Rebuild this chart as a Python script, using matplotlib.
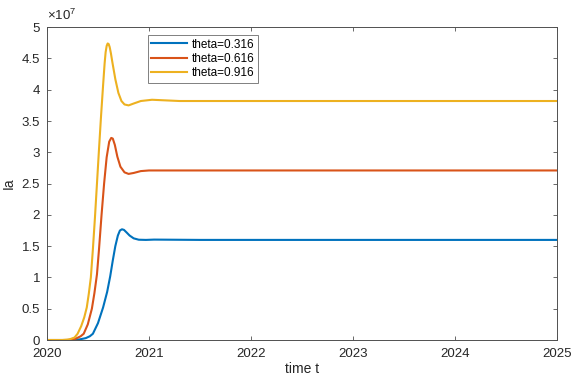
import matplotlib.pyplot as plt

plt.rcParams['font.family'] = ['Liberation Sans', 'DejaVu Sans']
plt.rcParams['mathtext.fontset'] = 'custom'
plt.rcParams['mathtext.rm'] = 'Liberation Sans'

# datos (en unidades de 1e7)
t_yellow = [2020.0, 2020.15, 2020.22, 2020.27, 2020.30, 2020.335, 2020.365, 2020.39, 2020.41,
            2020.43, 2020.45, 2020.47, 2020.49, 2020.51, 2020.53, 2020.55, 2020.565, 2020.575,
            2020.585, 2020.595, 2020.605, 2020.615, 2020.627, 2020.64, 2020.67, 2020.70, 2020.73,
            2020.76, 2020.80, 2020.85, 2020.92, 2021.03, 2021.3, 2022.0, 2025.0]
v_yellow = [0, 0.0, 0.01, 0.04, 0.1, 0.22, 0.36, 0.52, 0.74, 1.0, 1.45, 1.95, 2.5, 3.05, 3.58,
            4.07, 4.42, 4.6, 4.7, 4.74, 4.73, 4.68, 4.58, 4.45, 4.17, 3.95, 3.82, 3.765, 3.75,
            3.78, 3.82, 3.84, 3.82, 3.82, 3.82]

t_red = [2020.0, 2020.2, 2020.28, 2020.33, 2020.36, 2020.40, 2020.44, 2020.465, 2020.49, 2020.51,
         2020.535, 2020.56, 2020.585, 2020.61, 2020.63, 2020.645, 2020.665, 2020.69, 2020.72,
         2020.76, 2020.80, 2020.85, 2020.92, 2021.0, 2021.3, 2025.0]
v_red = [0, 0.0, 0.02, 0.06, 0.1, 0.25, 0.5, 0.75, 1.05, 1.45, 2.0, 2.5, 2.92, 3.17, 3.23, 3.22,
         3.12, 2.93, 2.77, 2.68, 2.655, 2.67, 2.70, 2.71, 2.71, 2.71]

t_blue = [2020.0, 2020.25, 2020.32, 2020.38, 2020.42, 2020.45, 2020.50, 2020.55, 2020.59, 2020.62,
          2020.645, 2020.67, 2020.695, 2020.715, 2020.735, 2020.755, 2020.78, 2020.81, 2020.85,
          2020.90, 2020.97, 2021.05, 2021.5, 2025.0]
v_blue = [0, 0.0, 0.01, 0.03, 0.06, 0.1, 0.27, 0.52, 0.77, 1.02, 1.27, 1.5, 1.67, 1.75, 1.77,
          1.76, 1.72, 1.67, 1.625, 1.603, 1.6, 1.605, 1.6, 1.6]

labels = ['theta=0.316', 'theta=0.616', 'theta=0.916']
x_ticks = [2020, 2021, 2022, 2023, 2024, 2025]
y_ticks = [0, 0.5, 1, 1.5, 2, 2.5, 3, 3.5, 4, 4.5, 5]

fig = plt.figure(figsize=(5.71, 3.76), dpi=100)
ax = fig.add_axes([0.0823, 0.0957, 0.893, 0.832])

ax.plot(t_blue, v_blue, color='#0072BD', lw=1.5, label=labels[0])
ax.plot(t_red, v_red, color='#D95319', lw=1.5, label=labels[1])
ax.plot(t_yellow, v_yellow, color='#EDB120', lw=1.5, label=labels[2])

ax.set_xlim(2020, 2025)
ax.set_ylim(0, 5)
ax.set_xticks(x_ticks)
ax.set_yticks(y_ticks)
ax.set_xticklabels([str(x) for x in x_ticks])
ax.set_yticklabels([f'{y:g}' for y in y_ticks])

for s in ax.spines.values():
    s.set_color('#505050')
    s.set_linewidth(0.7)
ax.tick_params(direction='in', top=True, right=True, length=3, width=0.6,
               colors='#505050', labelcolor='#262626', labelsize=9.5)
ax.tick_params(axis='x', pad=6)
ax.tick_params(axis='y', pad=5)

# factor de escala arriba a la izquierda
ax.text(0.0, 1.012, r'$\times10^{7}$', transform=ax.transAxes, ha='left', va='bottom',
        fontsize=9.5, color='#262626')

ax.set_xlabel('time t', fontsize=10, color='#262626', labelpad=1)
ax.set_ylabel('Ia', fontsize=10, color='#262626', labelpad=4)

leg = ax.legend(loc='upper left', bbox_to_anchor=(0.198, 0.975), fontsize=8.5, frameon=True,
                fancybox=False, edgecolor='#606060', handlelength=3.0, handletextpad=0.4,
                borderpad=0.3, labelspacing=0.2, borderaxespad=0)
leg.get_frame().set_linewidth(0.7)

fig.savefig('out.png', dpi=100)
